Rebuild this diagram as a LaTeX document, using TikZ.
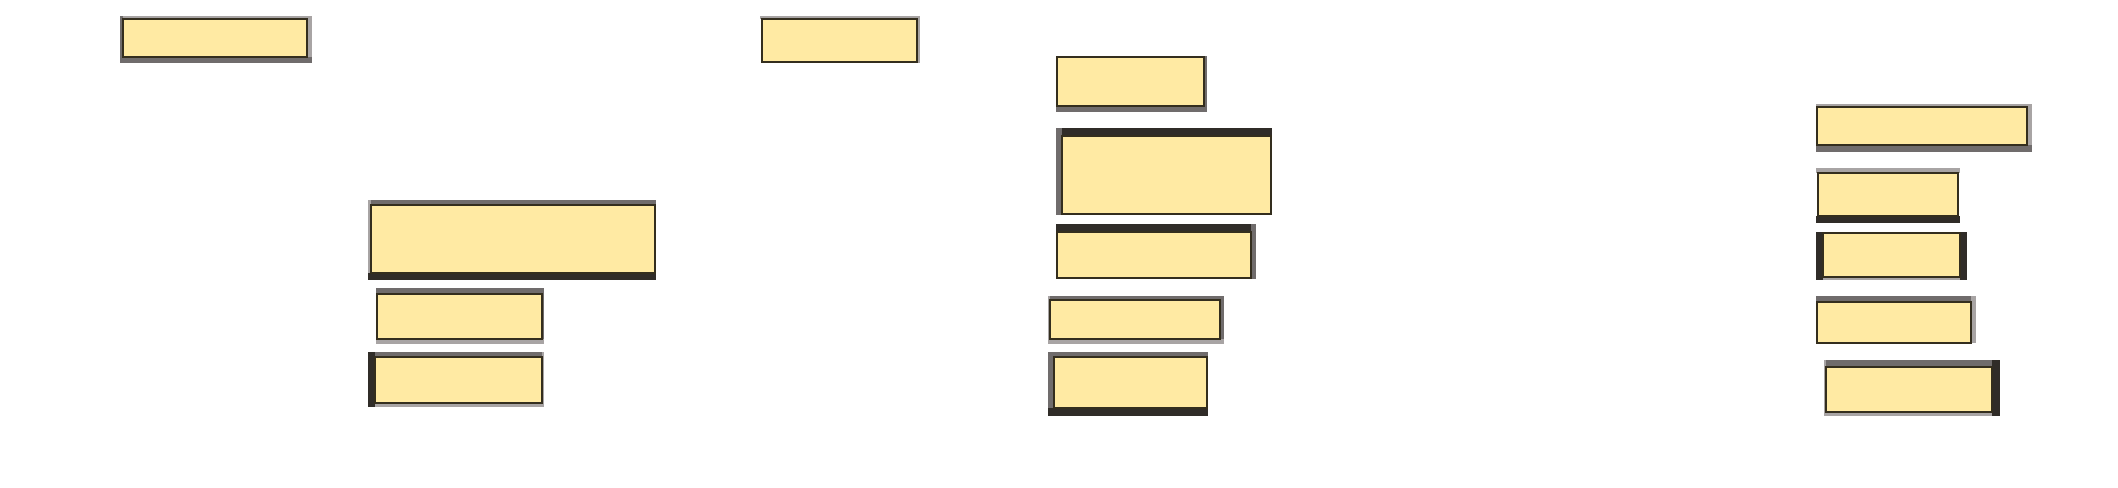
\documentclass[tikz,border=0pt]{standalone}
\usepackage{tikz}

\definecolor{boxfill}{RGB}{255,234,163}
\definecolor{boxline}{RGB}{52,46,30}
\definecolor{edgedark}{RGB}{48,44,40}
\definecolor{edgemid}{RGB}{112,108,108}
\definecolor{edgelight}{RGB}{168,164,164}

\tikzset{
  box/.style={draw=boxline, fill=boxfill, line width=0.9pt},
  dark/.style={fill=edgedark},
  mid/.style={fill=edgemid},
  light/.style={fill=edgelight}
}

\begin{document}
\begin{tikzpicture}[x=0.75pt,y=0.75pt,yscale=-1,xscale=1]
	\useasboundingbox (0,0) rectangle (2118,488);

	%Shape: Rectangle [b1]
	\fill[light] (120,16) rectangle (312,19);
	\fill[mid] (120,16) rectangle (123,63);
	\fill[light] (307,16) rectangle (312,63);
	\fill[mid] (120,57) rectangle (312,63);
	\draw[box] (123,19) rectangle (307,57);
	%Shape: Rectangle [b2]
	\fill[light] (760,16) rectangle (920,19);
	\fill[light] (917,16) rectangle (920,63);
	\draw[box] (762,19) rectangle (917,62);

	%Shape: Rectangle [b3]
	\fill[mid] (1056,106) rectangle (1207,112);
	\fill[mid] (1204,56) rectangle (1207,112);
	\draw[box] (1057,57) rectangle (1204,106);
	%Shape: Rectangle [b4]
	\fill[dark] (1056,128) rectangle (1272,136);
	\fill[mid] (1056,128) rectangle (1062,215);
	\draw[box] (1062,136) rectangle (1271,214);
	%Shape: Rectangle [b5]
	\fill[dark] (1056,224) rectangle (1256,232);
	\fill[mid] (1251,224) rectangle (1256,279);
	\draw[box] (1057,232) rectangle (1251,278);
	%Shape: Rectangle [b6]
	\fill[mid] (1048,296) rectangle (1224,300);
	\fill[light] (1048,296) rectangle (1050,344);
	\fill[mid] (1220,296) rectangle (1224,344);
	\fill[light] (1048,339) rectangle (1224,344);
	\draw[box] (1050,300) rectangle (1220,339);
	%Shape: Rectangle [b7]
	\fill[mid] (1048,352) rectangle (1208,357);
	\fill[mid] (1048,352) rectangle (1054,416);
	\fill[dark] (1048,408) rectangle (1208,416);
	\draw[box] (1054,357) rectangle (1207,408);

	%Shape: Rectangle [b8]
	\fill[mid] (368,200) rectangle (656,205);
	\fill[light] (368,200) rectangle (371,280);
	\fill[dark] (368,273) rectangle (656,280);
	\draw[box] (371,205) rectangle (655,273);
	%Shape: Rectangle [b9]
	\fill[mid] (376,288) rectangle (544,294);
	\fill[mid] (542,288) rectangle (544,344);
	\fill[light] (376,339) rectangle (544,344);
	\draw[box] (377,294) rectangle (542,339);
	%Shape: Rectangle [b10]
	\fill[mid] (368,352) rectangle (544,357);
	\fill[light] (542,352) rectangle (544,407);
	\fill[light] (368,403) rectangle (544,407);
	\fill[dark] (368,352) rectangle (375,407);
	\draw[box] (375,357) rectangle (542,403);

	%Shape: Rectangle [b11]
	\fill[light] (1816,104) rectangle (2032,107);
	\fill[light] (2027,104) rectangle (2032,152);
	\fill[mid] (1816,145) rectangle (2032,152);
	\draw[box] (1817,107) rectangle (2027,145);
	%Shape: Rectangle [b12]
	\fill[light] (1816,168) rectangle (1960,173);
	\fill[dark] (1816,216) rectangle (1960,223);
	\draw[box] (1818,173) rectangle (1958,216);
	%Shape: Rectangle [b13]
	\fill[light] (1816,277) rectangle (1967,280);
	\fill[dark] (1816,232) rectangle (1823,280);
	\fill[dark] (1960,232) rectangle (1967,280);
	\draw[box] (1823,233) rectangle (1960,277);
	%Shape: Rectangle [b14]
	\fill[mid] (1816,296) rectangle (1976,302);
	\fill[light] (1971,296) rectangle (1976,343);
	\draw[box] (1817,302) rectangle (1971,343);
	%Shape: Rectangle [b15]
	\fill[mid] (1824,360) rectangle (2000,367);
	\fill[light] (1824,360) rectangle (1826,416);
	\fill[light] (1824,412) rectangle (2000,416);
	\fill[dark] (1992,360) rectangle (2000,416);
	\draw[box] (1826,367) rectangle (1992,412);

\end{tikzpicture}
\end{document}
